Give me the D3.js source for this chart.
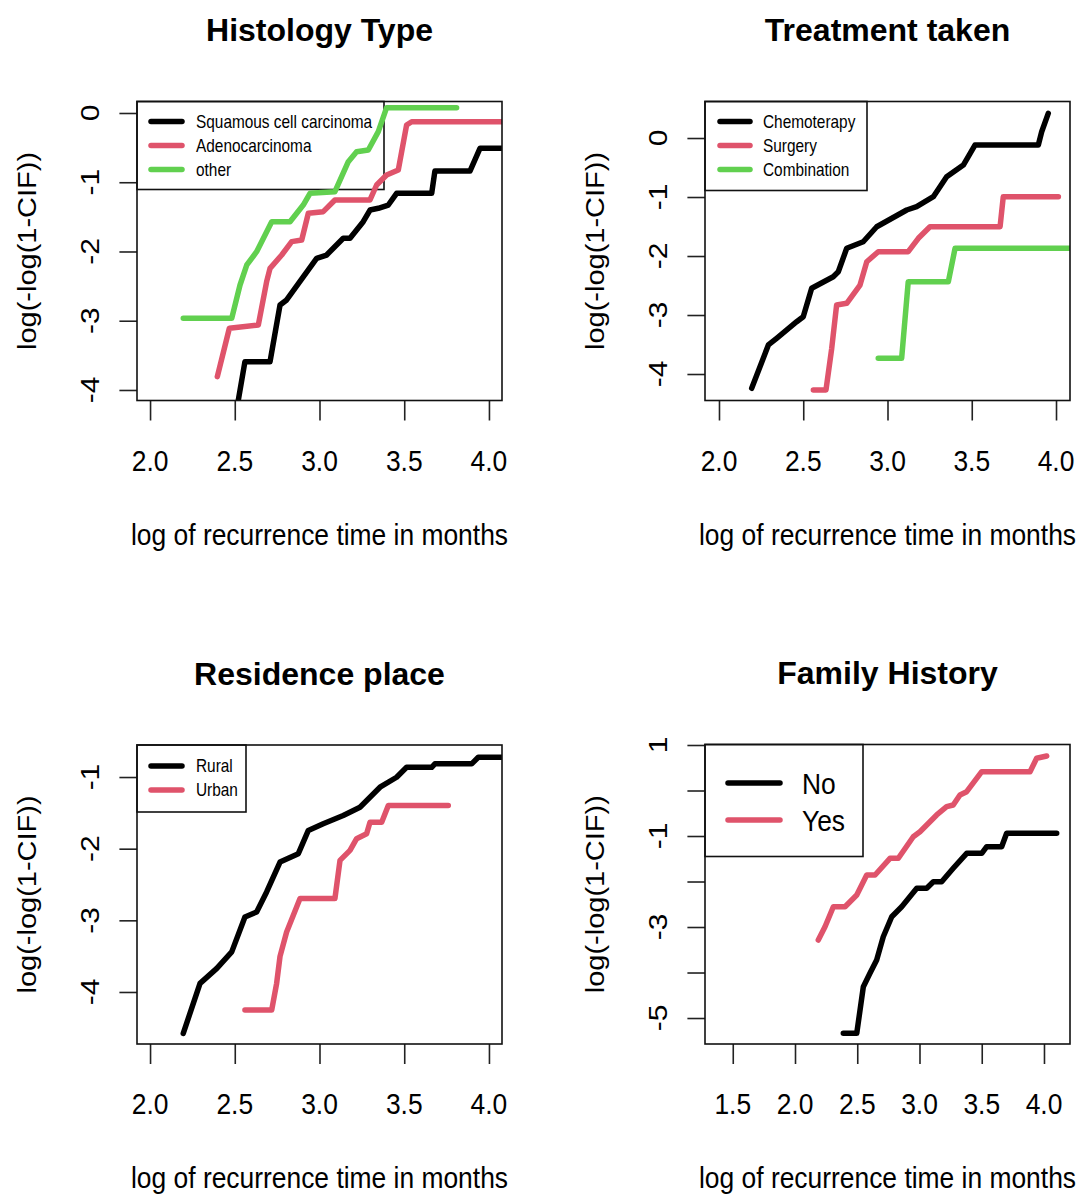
<!DOCTYPE html>
<html>
<head>
<meta charset="utf-8">
<script src="https://cdn.jsdelivr.net/npm/d3@7"></script>
<style>
  html, body { margin: 0; padding: 0; background: #fff; }
  svg { display: block; }
  text { font-family: "Liberation Sans", Arial, Helvetica, sans-serif; fill: #000; }
</style>
</head>
<body>
<svg id="chart" width="1081" height="1196"></svg>
<script>
// ---------------- DATA ----------------
const xAxisTitle = "log of recurrence time in months";
const yAxisTitle = "log(-log(1-CIF))";

// Panel 1: Histology Type
const histologyCategories = ["Squamous cell carcinoma", "Adenocarcinoma", "other"];
const histologySquamous = [[2.517,-4.30],[2.521,-4.144],[2.560,-3.591],[2.708,-3.591],[2.767,-2.773],[2.806,-2.700],[2.983,-2.098],[3.042,-2.051],[3.140,-1.809],[3.180,-1.809],[3.258,-1.570],[3.298,-1.401],[3.347,-1.376],[3.406,-1.329],[3.455,-1.160],[3.662,-1.160],[3.681,-0.838],[3.888,-0.838],[3.947,-0.510],[4.10,-0.510]];
const histologyAdeno = [[2.397,-3.808],[2.468,-3.109],[2.639,-3.061],[2.688,-2.436],[2.708,-2.243],[2.777,-2.051],[2.836,-1.858],[2.895,-1.834],[2.934,-1.448],[3.022,-1.425],[3.091,-1.256],[3.298,-1.256],[3.337,-1.040],[3.396,-0.895],[3.465,-0.823],[3.514,-0.173],[3.544,-0.126],[4.10,-0.126]];
const histologyOther = [[2.196,-2.965],[2.482,-2.965],[2.531,-2.484],[2.571,-2.195],[2.629,-2.003],[2.718,-1.570],[2.826,-1.570],[2.904,-1.329],[2.944,-1.160],[3.091,-1.136],[3.170,-0.703],[3.219,-0.559],[3.288,-0.534],[3.347,-0.270],[3.396,0.077],[3.809,0.077]];

// Panel 2: Treatment taken
const treatmentCategories = ["Chemoterapy", "Surgery", "Combination"];
const treatmentChemo = [[2.194,-4.242],[2.293,-3.508],[2.342,-3.395],[2.461,-3.114],[2.500,-3.029],[2.550,-2.547],[2.678,-2.351],[2.708,-2.266],[2.758,-1.869],[2.856,-1.758],[2.936,-1.504],[3.114,-1.220],[3.173,-1.164],[3.272,-0.995],[3.351,-0.656],[3.450,-0.458],[3.519,-0.119],[3.895,-0.119],[3.915,0.107],[3.954,0.419]];
const treatmentSurgery = [[2.560,-4.271],[2.635,-4.271],[2.669,-3.564],[2.698,-2.831],[2.758,-2.802],[2.837,-2.492],[2.877,-2.097],[2.945,-1.927],[3.123,-1.927],[3.183,-1.700],[3.252,-1.503],[3.668,-1.503],[3.687,-0.995],[4.014,-0.995]];
const treatmentCombination = [[2.945,-3.734],[3.084,-3.734],[3.123,-2.436],[3.361,-2.436],[3.401,-1.869],[4.10,-1.869]];

// Panel 3: Residence place
const residenceCategories = ["Rural", "Urban"];
const residenceRural = [[2.196,-4.577],[2.295,-3.880],[2.394,-3.671],[2.482,-3.440],[2.560,-2.953],[2.629,-2.883],[2.688,-2.604],[2.767,-2.187],[2.875,-2.070],[2.934,-1.745],[3.022,-1.652],[3.140,-1.536],[3.239,-1.421],[3.357,-1.142],[3.455,-1.003],[3.514,-0.864],[3.662,-0.864],[3.681,-0.816],[3.898,-0.816],[3.937,-0.724],[4.10,-0.724]];
const residenceUrban = [[2.560,-4.252],[2.718,-4.252],[2.747,-3.880],[2.767,-3.503],[2.806,-3.162],[2.885,-2.696],[3.091,-2.696],[3.121,-2.163],[3.180,-2.024],[3.219,-1.861],[3.278,-1.791],[3.298,-1.630],[3.367,-1.630],[3.406,-1.397],[3.760,-1.397]];

// Panel 4: Family History
const familyCategories = ["No", "Yes"];
const familyNo = [[2.388,-5.336],[2.496,-5.336],[2.549,-4.312],[2.602,-4.018],[2.656,-3.725],[2.709,-3.213],[2.777,-2.774],[2.857,-2.554],[2.978,-2.149],[3.058,-2.149],[3.111,-2.004],[3.178,-2.004],[3.271,-1.710],[3.379,-1.380],[3.500,-1.380],[3.540,-1.235],[3.660,-1.235],[3.700,-0.941],[4.102,-0.941]];
const familyYes = [[2.187,-3.286],[2.241,-2.993],[2.308,-2.554],[2.402,-2.554],[2.496,-2.297],[2.576,-1.857],[2.643,-1.857],[2.763,-1.490],[2.830,-1.490],[2.950,-1.015],[3.004,-0.905],[3.138,-0.538],[3.218,-0.356],[3.271,-0.319],[3.325,-0.099],[3.379,-0.026],[3.500,0.413],[3.888,0.413],[3.941,0.708],[4.022,0.758]];

// Tick values and labels
const xTicksMain = [2.0, 2.5, 3.0, 3.5, 4.0];
const xTicksFamily = [1.5, 2.0, 2.5, 3.0, 3.5, 4.0];
const yTicksHistology = [0, -1, -2, -3, -4];
const yTicksTreatment = [0, -1, -2, -3, -4];
const yTicksResidence = [-1, -2, -3, -4];
const yTicksFamily = [1, 0, -1, -2, -3, -4, -5];
const yTickLabelsFamily = ["1", "", "-1", "", "-3", "", "-5"];

// ---------------- STYLE / LAYOUT ----------------
const COLORS = ["#000000", "#DF536B", "#61D04F"];
const SX = 0.88; // horizontal squeeze of the reference's text

const panels = [
  { title: "Histology Type", box: {x0:137, x1:502, y0:101.5, y1:400.5},
    xDomain:[1.923,4.077], yDomain:[-4.152,0.166],
    xTicks:xTicksMain, yTicks:yTicksHistology, yLabels:yTicksHistology.map(String),
    series:[histologySquamous, histologyAdeno, histologyOther], names:histologyCategories,
    legend:{w:247, h:88, off:[20,44,68], l0:14, l1:45, tx:59, fs:17.5} },
  { title: "Treatment taken", box: {x0:705, x1:1070, y0:101.5, y1:400.5},
    xDomain:[1.917,4.083], yDomain:[-4.449,0.619],
    xTicks:xTicksMain, yTicks:yTicksTreatment, yLabels:yTicksTreatment.map(String),
    series:[treatmentChemo, treatmentSurgery, treatmentCombination], names:treatmentCategories,
    legend:{w:162, h:89, off:[20,44,68], l0:15, l1:45, tx:58, fs:17.5} },
  { title: "Residence place", box: {x0:137, x1:502, y0:745, y1:1044},
    xDomain:[1.923,4.077], yDomain:[-4.726,-0.553],
    xTicks:xTicksMain, yTicks:yTicksResidence, yLabels:yTicksResidence.map(String),
    series:[residenceRural, residenceUrban], names:residenceCategories,
    legend:{w:109, h:67, off:[21,45], l0:14, l1:45, tx:59, fs:17.5} },
  { title: "Family History", box: {x0:705, x1:1070, y0:744.5, y1:1044},
    xDomain:[1.277,4.209], yDomain:[-5.571,1.011],
    xTicks:xTicksFamily, yTicks:yTicksFamily, yLabels:yTickLabelsFamily,
    series:[familyNo, familyYes], names:familyCategories,
    legend:{w:158, h:112, off:[38.5,75.5], l0:23, l1:75, tx:97, fs:30} }
];

const svg = d3.select("#chart");
const defs = svg.append("defs");

function hText(g, x, y, str, opts) {
  const t = g.append("g").attr("transform", `translate(${x},${y}) scale(${opts.sx ?? SX},1)`)
    .append("text").attr("x", 0).attr("y", 0)
    .attr("text-anchor", opts.anchor || "middle")
    .attr("font-size", opts.size)
    .text(str);
  if (opts.bold) t.attr("font-weight", "bold");
  return t;
}
function vText(g, x, y, str, size) {
  g.append("g").attr("transform", `translate(${x},${y}) scale(${SX},1) rotate(-90)`)
    .append("text").attr("x", 0).attr("y", 0)
    .attr("text-anchor", "middle")
    .attr("font-size", size)
    .text(str);
}

panels.forEach((p, i) => {
  const b = p.box;
  const x = d3.scaleLinear().domain(p.xDomain).range([b.x0, b.x1]);
  const y = d3.scaleLinear().domain(p.yDomain).range([b.y1, b.y0]);
  const g = svg.append("g");

  // clip path for data lines
  defs.append("clipPath").attr("id", "clip" + i)
    .append("rect").attr("x", b.x0).attr("y", b.y0)
    .attr("width", b.x1 - b.x0).attr("height", b.y1 - b.y0);

  // title
  hText(g, (b.x0 + b.x1) / 2, b.y0 - 60.5, p.title, {size: 32, bold: true, sx: 1});

  // x axis (ticks and labels)
  const xAxis = d3.axisBottom(x).tickValues(p.xTicks).tickFormat(d3.format(".1f")).tickSize(20).tickSizeOuter(0);
  const xg = g.append("g").attr("transform", `translate(0,${b.y1})`).call(xAxis);
  xg.select(".domain").remove();
  xg.selectAll(".tick line").attr("stroke", "#222").attr("stroke-width", 1.6);
  xg.selectAll(".tick text").remove();
  p.xTicks.forEach(v => hText(g, x(v), b.y1 + 70, d3.format(".1f")(v), {size: 30}));
  hText(g, (b.x0 + b.x1) / 2, b.y1 + 144, xAxisTitle, {size: 30});

  // y axis (ticks and rotated labels)
  const yAxis = d3.axisLeft(y).tickValues(p.yTicks).tickSize(17.6).tickSizeOuter(0);
  const yg = g.append("g").attr("transform", `translate(${b.x0},0)`).call(yAxis);
  yg.select(".domain").remove();
  yg.selectAll(".tick line").attr("stroke", "#222").attr("stroke-width", 1.6);
  yg.selectAll(".tick text").remove();
  p.yTicks.forEach((v, k) => {
    if (p.yLabels[k]) vText(g, b.x0 - 38.5, y(v), p.yLabels[k], 30);
  });
  vText(g, b.x0 - 101.5, (b.y0 + b.y1) / 2, yAxisTitle, 29);

  // legend (transparent box)
  const L = p.legend;
  g.append("rect").attr("x", b.x0).attr("y", b.y0).attr("width", L.w).attr("height", L.h)
    .attr("fill", "none").attr("stroke", "#111").attr("stroke-width", 1.6);
  p.names.forEach((name, k) => {
    const yy = b.y0 + L.off[k];
    g.append("line").attr("x1", b.x0 + L.l0).attr("x2", b.x0 + L.l1)
      .attr("y1", yy).attr("y2", yy)
      .attr("stroke", COLORS[k]).attr("stroke-width", 5.5).attr("stroke-linecap", "round");
    hText(g, b.x0 + L.tx, yy + L.fs * 0.36, name, {size: L.fs, anchor: "start"});
  });

  // data lines
  const line = d3.line().x(d => x(d[0])).y(d => y(d[1])).curve(d3.curveLinear);
  const lg = g.append("g").attr("clip-path", `url(#clip${i})`);
  p.series.forEach((s, k) => {
    lg.append("path").datum(s).attr("d", line)
      .attr("fill", "none").attr("stroke", COLORS[k])
      .attr("stroke-width", 5.5).attr("stroke-linejoin", "round").attr("stroke-linecap", "round");
  });

  // plot box
  g.append("rect").attr("x", b.x0).attr("y", b.y0)
    .attr("width", b.x1 - b.x0).attr("height", b.y1 - b.y0)
    .attr("fill", "none").attr("stroke", "#111").attr("stroke-width", 1.6);
});
</script>
</body>
</html>
